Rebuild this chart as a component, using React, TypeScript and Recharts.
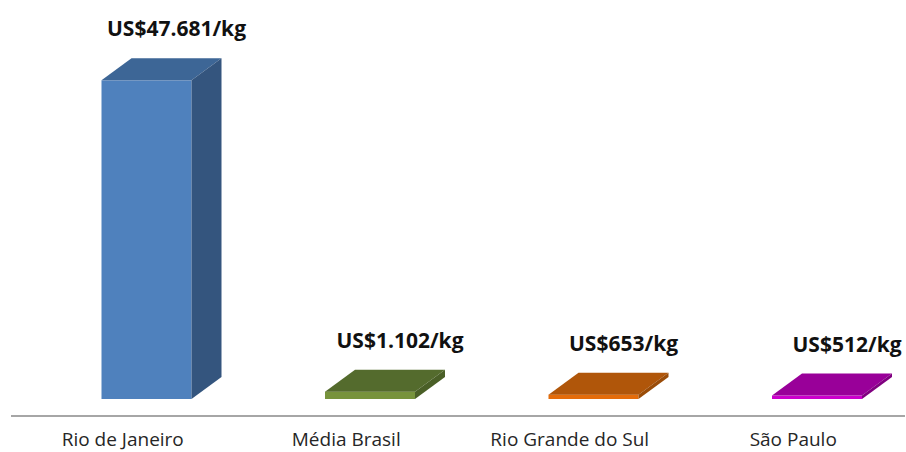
import { BarChart, Bar, XAxis, YAxis, LabelList } from "recharts";

const REGIONS = ["Rio de Janeiro", "Média Brasil", "Rio Grande do Sul", "São Paulo"];
const PRICES = [47681, 1102, 653, 512];

// front / top / side colours for each bar
const FRONT = ["#4f81bd", "#77933c", "#e46c0a", "#cc00cc"];
const TOP = ["#3d6696", "#546b2d", "#b0560a", "#990099"];
const SIDE = ["#34557e", "#4a5f27", "#9a4c08", "#800080"];

const data = REGIONS.map((region, i) => ({ region, price: PRICES[i] }));

const SHIFT_X = 23.5; // front face sits right of band center
const LIFT = 17; // floor gap above axis line
const DX = 30;
const DY = 22;

const fmt = (v: number) => `US$${String(v).replace(/\B(?=(\d{3})+(?!\d))/g, ".")}/kg`;

function Bar3D(props: any) {
  const { x, y, width, height, index } = props;
  const fx = x + SHIFT_X;
  const fy = y - LIFT;
  const w = width;
  const h = height;
  return (
    <g>
      <rect x={fx} y={fy} width={w} height={h} fill={FRONT[index]} />
      <polygon
        points={`${fx},${fy} ${fx + DX},${fy - DY} ${fx + w + DX},${fy - DY} ${fx + w},${fy}`}
        fill={TOP[index]}
      />
      <polygon
        points={`${fx + w},${fy} ${fx + w + DX},${fy - DY} ${fx + w + DX},${fy + h - DY} ${fx + w},${fy + h}`}
        fill={SIDE[index]}
      />
    </g>
  );
}

function ValueLabel(props: any) {
  const { x, y, width, value } = props;
  return (
    <text
      x={x + width / 2 + 53.5}
      y={y - LIFT - 44}
      textAnchor="middle"
      fontFamily="'Open Sans', sans-serif"
      fontWeight="bold"
      fontSize={21}
      fill="#111"
    >
      {fmt(value)}
    </text>
  );
}

function CategoryTick(props: any) {
  const { x, payload } = props;
  return (
    <text
      x={x}
      y={446}
      textAnchor="middle"
      fontFamily="'Open Sans', sans-serif"
      fontSize={19}
      fill="#262626"
    >
      {payload.value}
    </text>
  );
}

export default function App() {
  return (
    <div style={{ position: "absolute", left: 0, top: 0, background: "#fff" }}>
      <BarChart
        width={906}
        height={452}
        data={data}
        margin={{ top: 15, right: 1, left: 11, bottom: 0 }}
        barSize={90}
      >
        <XAxis
          dataKey="region"
          height={36}
          axisLine={{ stroke: "#898989", strokeWidth: 1.5 }}
          tickLine={false}
          tick={<CategoryTick />}
          interval={0}
        />
        <YAxis hide domain={[0, 60000]} />
        <Bar dataKey="price" shape={<Bar3D />} isAnimationActive={false}>
          <LabelList dataKey="price" content={<ValueLabel />} />
        </Bar>
      </BarChart>
    </div>
  );
}
